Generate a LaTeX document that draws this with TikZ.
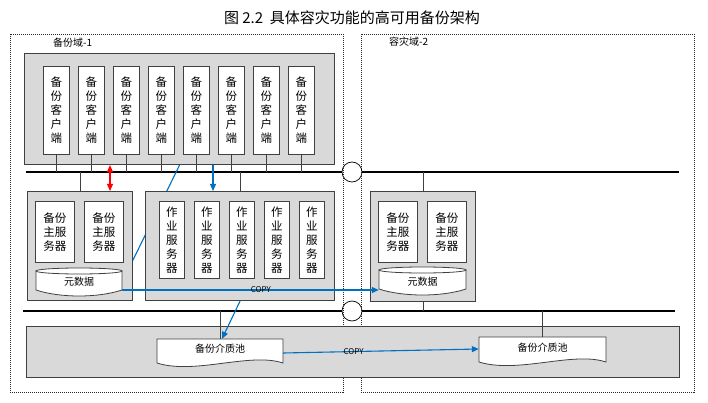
\documentclass[tikz,border=0pt]{standalone}
\usepackage{fontspec}
\setmainfont{Noto Sans CJK SC}
\usetikzlibrary{arrows.meta}

\definecolor{flowblue}{HTML}{0070C0}
\definecolor{boxgray}{HTML}{D9D9D9}
\definecolor{edgegray}{HTML}{404040}

\tikzset{
  zone/.style={draw=black!85, line width=0.7pt, dash pattern=on 1pt off 1pt},
  grp/.style={draw=edgegray, fill=boxgray, line width=1.1pt, inner sep=0pt},
  unit/.style={draw=edgegray, fill=white, line width=0.9pt, align=center, inner sep=0pt, font=\fontsize{11.5}{14}\selectfont},
  store/.style={draw=edgegray, fill=white, line width=0.8pt},
  bus/.style={line width=2.6pt},
  tap/.style={draw=edgegray, line width=0.7pt},
  flow/.style={draw=flowblue, line width=1.1pt, -{Triangle[length=7pt,width=6pt]}},
  alarm/.style={draw=red, line width=1.1pt, {Triangle[length=7pt,width=6pt]}-{Triangle[length=7pt,width=6pt]}},
  lbl/.style={font=\fontsize{10}{12}\selectfont, inner sep=0pt},
  copylbl/.style={font=\fontsize{8}{9}\selectfont, inner sep=0pt}
}

\begin{document}
\begin{tikzpicture}[x=1pt, y=-1pt] %%% pixel grid of the sketch, y runs down
  \useasboundingbox (0,0) rectangle (708,403);
  \node[font=\fontsize{15}{17}\selectfont] (title) at (352,18) {图 2.2\ \ 具体容灾功能的高可用备份架构};

  %%% network buses
  \coordinate (busAw) at (26,172);  \coordinate (busAe) at (679,172);
  \coordinate (busBw) at (23,311);  \coordinate (busBe) at (675,311);
  \draw[bus] (busAw) -- (busAe);
  \draw[bus] (busBw) -- (busBe);
  \node[draw, fill=white, circle, minimum size=20, inner sep=0pt, line width=0.7pt] (hubA) at (352,172) {};
  \node[draw, fill=white, circle, minimum size=20, inner sep=0pt, line width=0.7pt] (hubB) at (352,311) {};

  %%% domains
  \draw[zone] (10,34) rectangle (343,392);
  \draw[zone] (361,34) rectangle (694,392);
  \node[lbl, anchor=west] (dom1) at (53,43) {备份域-1};
  \node[lbl, anchor=west] (dom2) at (389,42) {容灾域-2};

  %%% backup clients
  \node[grp, anchor=north west, minimum width=310, minimum height=111] (clients) at (24,53) {};
  \foreach \i in {1,...,8}
    \node[unit, anchor=north west, minimum width=26, minimum height=88] (cl\i) at ({43+35*(\i-1)},66) {备\\份\\客\\户\\端};
  \foreach \i in {1,...,8}
    \draw[tap] (cl\i.south) -- (cl\i.south |- busAw);

  %%% job servers (the blue line runs under the box)
  \node[anchor=center, minimum width=86, minimum height=24, inner sep=0pt] (meta1) at (79,282) {};
  \draw[flow] (clients.south) -- (meta1.east);
  \node[grp, anchor=north west, minimum width=189, minimum height=109] (jobgrp) at (145,191) {};
  \foreach \i in {1,...,5}
    \node[unit, anchor=north west, minimum width=25, minimum height=77] (job\i) at ({159+35*(\i-1)},201) {作\\业\\服\\务\\器};
  \draw[tap] (jobgrp.north) -- (jobgrp.north |- busAw);

  %%% master servers, domain 1
  \node[grp, anchor=north west, minimum width=105, minimum height=109] (mastergrp) at (27,191) {};
  \node[unit, anchor=north west, minimum width=39, minimum height=61] (mst1) at (35,201) {备份\\主服\\务器};
  \node[unit, anchor=north west, minimum width=39, minimum height=61] (mst2) at (84,201) {备份\\主服\\务器};
  \filldraw[store] (36,271) -- (36,290) .. controls (60,298) and (98,298) .. (122,290) -- (122,271) -- cycle;
  \filldraw[store] (79,271) ellipse [x radius=43, y radius=3];
  \node[lbl] (meta1txt) at (meta1) {元数据};
  \draw[tap] (mastergrp.north) -- (mastergrp.north |- busAw);

  %%% master servers, domain 2
  \node[grp, anchor=north west, minimum width=105, minimum height=110] (mastergrp2) at (370,191) {};
  \node[unit, anchor=north west, minimum width=39, minimum height=61] (mst3) at (378,201) {备份\\主服\\务器};
  \node[unit, anchor=north west, minimum width=39, minimum height=61] (mst4) at (427,201) {备份\\主服\\务器};
  \filldraw[store] (379,270) -- (379,289) .. controls (403,297) and (442,297) .. (466,289) -- (466,270) -- cycle;
  \filldraw[store] (422.5,270) ellipse [x radius=43.5, y radius=3];
  \node[anchor=center, minimum width=87, minimum height=24, inner sep=0pt] (meta2) at (422.5,282) {};
  \node[lbl] (meta2txt) at (meta2) {元数据};
  \draw[tap] (mastergrp2.north) -- (mastergrp2.north |- busAw);
  \draw[tap] (mastergrp2.south) -- (mastergrp2.south |- busBw);

  %%% media pools
  \node[grp, anchor=north west, minimum width=653, minimum height=51] (poolgrp) at (26,326) {};
  \filldraw[store] (157,339) -- (283,339) -- (283,363) .. controls (250,352) and (195,375) .. (157,363) -- cycle;
  \node[anchor=center, minimum width=126, minimum height=22, inner sep=0pt] (pool1) at (220,350) {};
  \node[lbl] (pool1txt) at (220,349) {备份介质池};
  \filldraw[store] (479,337) -- (606,337) -- (606,362) .. controls (573,351) and (518,374) .. (479,362) -- cycle;
  \node[anchor=center, minimum width=127, minimum height=22, inner sep=0pt] (pool2) at (542.5,348) {};
  \node[lbl] (pool2txt) at (542.5,348) {备份介质池};
  \draw[tap] (pool1.north) -- (pool1.north |- busBw);
  \draw[tap] (pool2.north) -- (pool2.north |- busBw);

  %%% data flows
  \coordinate (redx) at (110,0);
  \coordinate (jobin) at (213,0);
  \draw[alarm] (clients.south -| redx) -- (mastergrp.north -| redx);
  \draw[flow] (clients.south -| jobin) -- (jobgrp.north -| jobin);
  \draw[flow] (jobgrp.south) -- ([xshift=2pt]pool1.north);
  \draw[flow] ([yshift=-8pt]meta1.east) -- node[pos=0.54, copylbl] (copy1) {COPY} ([yshift=-8pt]meta2.west);
  \draw[flow] ([yshift=-3pt]pool1.east) -- node[pos=0.36, copylbl] (copy2) {COPY} ([yshift=-1pt]pool2.west);
\end{tikzpicture}
\end{document}
